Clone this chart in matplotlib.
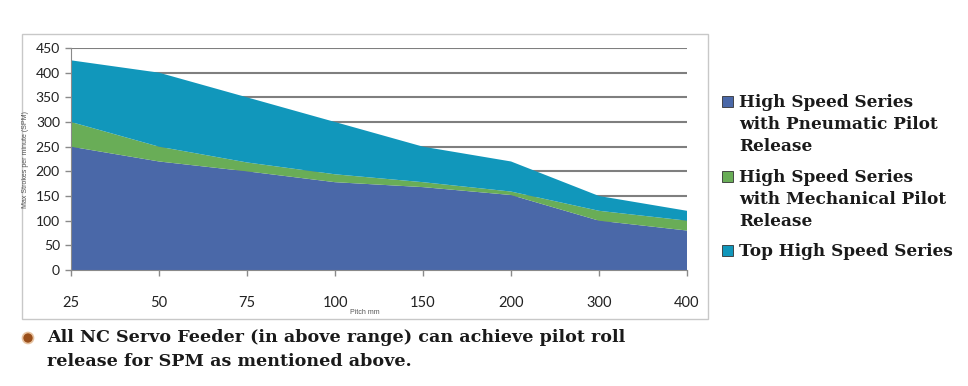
import numpy as np
import matplotlib.pyplot as plt
from matplotlib.patches import Rectangle, Ellipse

# data (stacked areas)
pitch = ["25", "50", "75", "100", "150", "200", "300", "400"]
pneumatic = [250, 220, 200, 178, 168, 152, 100, 80]
mechanical = [50, 30, 18, 16, 10, 7, 20, 20]
top_speed = [125, 150, 132, 106, 72, 61, 30, 20]

series_names = ["High Speed Series\nwith Pneumatic Pilot\nRelease",
                "High Speed Series\nwith Mechanical Pilot\nRelease",
                "Top High Speed Series"]
colors = ["#4a68a8", "#69ad57", "#1197bb"]
y_ticks = list(range(0, 451, 50))

W, H = 968, 386
fig = plt.figure(figsize=(W / 100, H / 100), dpi=100)

# outer chart frame
fig.patches.append(Rectangle((22 / W, 1 - 319 / H), (708 - 22) / W, (319 - 34) / H,
                             transform=fig.transFigure, fill=False,
                             edgecolor="#c8c8c8", linewidth=1.0))

ax = fig.add_axes([71 / W, 1 - 270 / H, (687 - 71) / W, (270 - 48) / H])
x = np.arange(len(pitch))
ax.stackplot(x, pneumatic, mechanical, top_speed, colors=colors, linewidth=0)

ax.set_xlim(0, len(pitch) - 1)
ax.set_ylim(0, 450)
ax.set_yticks(y_ticks)
ax.set_xticks(x)
ax.set_xticklabels(pitch)
ax.yaxis.grid(True, color="#7f7f7f", linewidth=1.5)
ax.set_axisbelow(True)
for s in ["top", "right"]:
    ax.spines[s].set_visible(False)
ax.spines["left"].set_color("#8a8a8a")
ax.spines["bottom"].set_color("#8a8a8a")
ax.tick_params(axis="both", colors="#8a8a8a", length=4.5, width=1,
               labelcolor="#222222", labelsize=10.5)
ax.tick_params(axis="x", pad=14)
ax.tick_params(axis="y", pad=3.5, labelsize=10)
for lbl in ax.get_xticklabels() + ax.get_yticklabels():
    lbl.set_fontfamily("Lato")

fig.text(26 / W, 1 - 160 / H, "Max Strokes per minute (SPM)", rotation=90,
         ha="center", va="center", fontsize=5, color="#555555", family="Liberation Sans")
fig.text(365 / W, 1 - 313 / H, "Pitch mm", ha="center", va="center",
         fontsize=5, color="#555555", family="Liberation Sans")

# legend drawn by hand
leg_y = [101, 176, 250]
for c, name, ly in zip(colors, series_names, leg_y):
    fig.patches.append(Rectangle((722 / W, 1 - (ly + 6) / H), 11 / W, 11 / H,
                                 transform=fig.transFigure, facecolor=c,
                                 edgecolor="#333333", linewidth=0.6))
    fig.text(739 / W, 1 - (ly - 7) / H, name, ha="left", va="top",
             fontsize=12.2, fontweight="bold", family="DejaVu Serif",
             color="#1a1a1a", linespacing=1.38)

# bullet note
fig.patches.append(Ellipse((28 / W, 1 - 338 / H), 11 / W, 11 / H, transform=fig.transFigure,
                           facecolor="#9a4f1a", edgecolor="#e6c2a0", linewidth=1.2))
fig.text(47 / W, 1 - 329 / H,
         "All NC Servo Feeder (in above range) can achieve pilot roll\nrelease for SPM as mentioned above.",
         ha="left", va="top", fontsize=12.6, fontweight="bold", family="DejaVu Serif",
         color="#1a1a1a", linespacing=1.5)

fig.savefig("out.png", dpi=100)
